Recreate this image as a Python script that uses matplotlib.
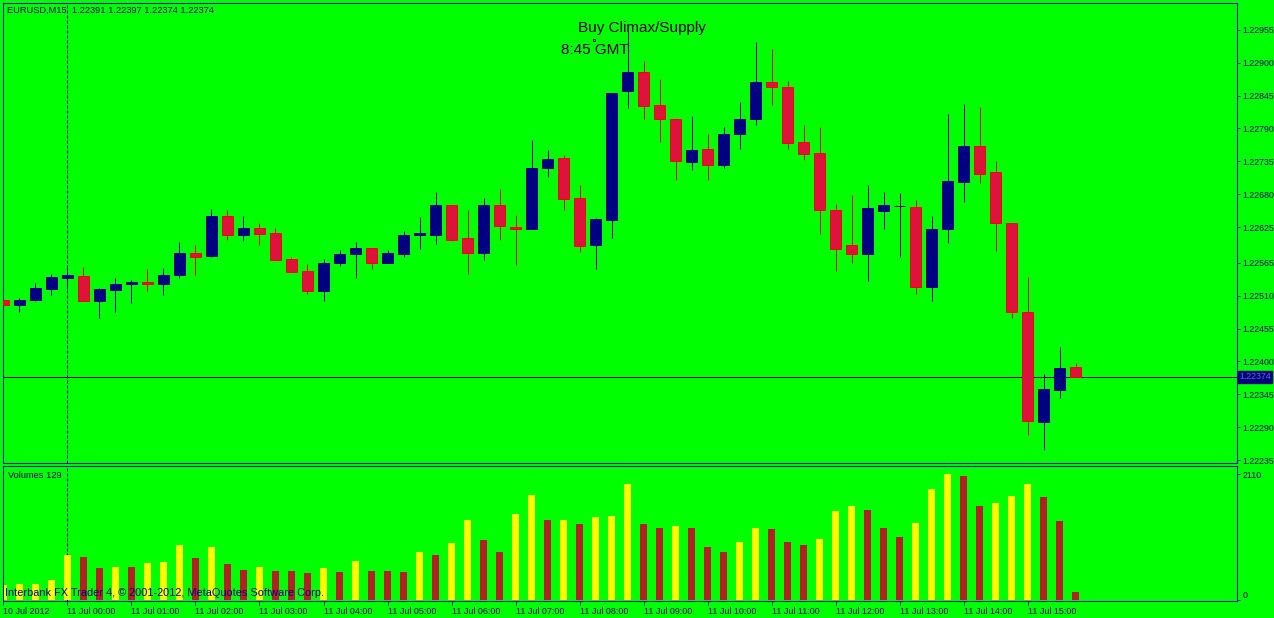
import numpy as np
import matplotlib.pyplot as plt

# EURUSD M15, 10 Jul 23:00 .. 11 Jul 15:45
opens = [1.22503, 1.22495, 1.22503, 1.22522, 1.22540, 1.22543, 1.22502, 1.22520, 1.22530, 1.22533,
         1.22529, 1.22544, 1.22582, 1.22577, 1.22644, 1.22612, 1.22623, 1.22615, 1.22572, 1.22551,
         1.22518, 1.22564, 1.22580, 1.22590, 1.22565, 1.22580, 1.22611, 1.22612, 1.22662, 1.22607,
         1.22582, 1.22662, 1.22625, 1.22621, 1.22724, 1.22741, 1.22674, 1.22595, 1.22637, 1.22852,
         1.22885, 1.22829, 1.22806, 1.22734, 1.22756, 1.22728, 1.22780, 1.22805, 1.22868, 1.22860,
         1.22767, 1.22749, 1.22654, 1.22595, 1.22580, 1.22652, 1.22660, 1.22659, 1.22524, 1.22621,
         1.22701, 1.22761, 1.22717, 1.22632, 1.22483, 1.22299, 1.22353, 1.22391]
highs = [1.22505, 1.22506, 1.22531, 1.22546, 1.22561, 1.22558, 1.22523, 1.22540, 1.22536, 1.22555,
         1.22556, 1.22600, 1.22595, 1.22655, 1.22654, 1.22644, 1.22632, 1.22623, 1.22575, 1.22563,
         1.22572, 1.22587, 1.22600, 1.22590, 1.22587, 1.22618, 1.22642, 1.22684, 1.22662, 1.22654,
         1.22674, 1.22689, 1.22645, 1.22771, 1.22754, 1.22746, 1.22695, 1.22640, 1.22850, 1.22955,
         1.22903, 1.22873, 1.22808, 1.22811, 1.22781, 1.22793, 1.22834, 1.22935, 1.22923, 1.22870,
         1.22796, 1.22793, 1.22664, 1.22678, 1.22695, 1.22684, 1.22682, 1.22670, 1.22644, 1.22814,
         1.22831, 1.22826, 1.22736, 1.22632, 1.22541, 1.22379, 1.22424, 1.22397]
lows = [1.22483, 1.22482, 1.22502, 1.22512, 1.22521, 1.22501, 1.22473, 1.22483, 1.22498, 1.22518,
        1.22512, 1.22540, 1.22545, 1.22574, 1.22604, 1.22602, 1.22595, 1.22569, 1.22549, 1.22513,
        1.22502, 1.22560, 1.22540, 1.22555, 1.22565, 1.22574, 1.22589, 1.22597, 1.22602, 1.22547,
        1.22570, 1.22604, 1.22562, 1.22621, 1.22709, 1.22654, 1.22584, 1.22555, 1.22606, 1.22825,
        1.22805, 1.22768, 1.22704, 1.22721, 1.22704, 1.22724, 1.22756, 1.22795, 1.22830, 1.22756,
        1.22738, 1.22614, 1.22552, 1.22564, 1.22534, 1.22622, 1.22574, 1.22513, 1.22502, 1.22599,
        1.22667, 1.22699, 1.22585, 1.22473, 1.22277, 1.22252, 1.22339, 1.22374]
closes = [1.22495, 1.22503, 1.22523, 1.22541, 1.22545, 1.22502, 1.22521, 1.22530, 1.22533, 1.22529,
          1.22545, 1.22582, 1.22575, 1.22644, 1.22612, 1.22623, 1.22614, 1.22570, 1.22550, 1.22518,
          1.22565, 1.22580, 1.22590, 1.22564, 1.22582, 1.22612, 1.22615, 1.22662, 1.22604, 1.22582,
          1.22662, 1.22626, 1.22622, 1.22724, 1.22739, 1.22672, 1.22594, 1.22639, 1.22850, 1.22885,
          1.22827, 1.22806, 1.22736, 1.22754, 1.22728, 1.22781, 1.22806, 1.22868, 1.22860, 1.22766,
          1.22748, 1.22654, 1.22589, 1.22580, 1.22657, 1.22662, 1.22660, 1.22524, 1.22622, 1.22702,
          1.22761, 1.22714, 1.22632, 1.22482, 1.22301, 1.22354, 1.22389, 1.22374]
volumes = [250, 260, 268, 335, 754, 720, 536, 553, 545, 620,
           637, 921, 703, 888, 603, 502, 553, 486, 480, 452,
           536, 469, 653, 486, 482, 469, 804, 754, 955, 1340,
           1005, 804, 1440, 1759, 1340, 1345, 1273, 1390, 1407, 1943,
           1273, 1206, 1240, 1206, 888, 804, 971, 1206, 1189, 971,
           921, 1022, 1490, 1574, 1507, 1206, 1055, 1290, 1859, 2110,
           2077, 1574, 1625, 1742, 1943, 1725, 1323, 129]

price_ticks = [1.22955, 1.22900, 1.22845, 1.22790, 1.22735, 1.22680, 1.22625,
               1.22565, 1.22510, 1.22455, 1.22400, 1.22345, 1.22290, 1.22235]
time_tick_idx = [0, 4, 8, 12, 16, 20, 24, 28, 32, 36, 40, 44, 48, 52, 56, 60, 64]
time_labels = ["10 Jul 2012", "11 Jul 00:00", "11 Jul 01:00", "11 Jul 02:00", "11 Jul 03:00",
               "11 Jul 04:00", "11 Jul 05:00", "11 Jul 06:00", "11 Jul 07:00", "11 Jul 08:00",
               "11 Jul 09:00", "11 Jul 10:00", "11 Jul 11:00", "11 Jul 12:00", "11 Jul 13:00",
               "11 Jul 14:00", "11 Jul 15:00"]
bid = 1.22374
day_sep = 4  # 11 Jul 00:00

W, H = 1274, 618
BG = "#00ff00"
NAVY = "#000080"
FRAME = "#1c1ca8"
TXT = "#0a0a60"
FONT = "Liberation Sans"

fig = plt.figure(figsize=(W / 100, H / 100), dpi=100, facecolor=BG)
ax = fig.add_axes([3 / W, 1 - 463 / H, 1234 / W, 460 / H], facecolor=BG)
axv = fig.add_axes([3 / W, 1 - 601 / H, 1234 / W, 135 / H], facecolor=BG, sharex=ax)

x = np.arange(len(closes))
o = np.array(opens)
c = np.array(closes)
up = c > o
down = c < o
flat = c == o

# wicks
wick_col = np.where(up, NAVY, np.where(down, "#ff0000", "#000000"))
ax.vlines(x, lows, highs, colors=wick_col, linewidth=0.75, zorder=2)
# bodies
bw = 0.66
ax.bar(x[up], (c - o)[up], bottom=o[up], width=bw, color=NAVY, edgecolor=NAVY,
       linewidth=0.7, zorder=3)
ax.bar(x[down], (o - c)[down], bottom=c[down], width=bw, color="#dc143c",
       edgecolor="#ff0000", linewidth=0.7, zorder=3)
ax.hlines(c[flat], x[flat] - bw / 2, x[flat] + bw / 2, colors="#000000",
          linewidth=0.75, zorder=3)

ax.axhline(bid, color="black", linewidth=0.75, zorder=1)
for a in (ax, axv):
    a.axvline(day_sep, color=NAVY, linewidth=0.75, linestyle=(0, (2.9, 1.9)), zorder=1)

ax.set_xlim(-0.03, 77.09)
ax.set_ylim(1.22230, 1.23000)

# volumes
v = np.array(volumes)
vup = np.concatenate([[True], v[1:] > v[:-1]])
axv.bar(x, v, width=0.44, color=np.where(vup, "#ffff00", "#b22222"), zorder=2)
axv.set_ylim(-17, 2244)

for a in (ax, axv):
    for s in a.spines.values():
        s.set_color(FRAME)
        s.set_linewidth(0.8)
    a.yaxis.tick_right()
    a.tick_params(axis="y", direction="out", length=2.5, width=0.7, color=FRAME,
                  labelsize=6.3, labelcolor=TXT, pad=1.2)

ax.set_yticks(price_ticks)
ax.set_yticklabels([f"{p:.5f}" for p in price_ticks], fontfamily=FONT)
ax.tick_params(axis="x", bottom=False, labelbottom=False)

axv.set_yticks([0, 2110])
vl = axv.set_yticklabels(["0", "2110"], fontfamily=FONT)
vl[0].set_va("bottom")

axv.set_xticks(time_tick_idx)
tl = axv.set_xticklabels(time_labels, fontfamily=FONT, fontsize=6.4, color=TXT)
for t in tl:
    t.set_ha("left")
axv.tick_params(axis="x", direction="out", length=3, width=0.7, color=FRAME, pad=1.5)

# texts
fig.text(7 / W, 1 - 10 / H, "EURUSD,M15  1.22391 1.22397 1.22374 1.22374",
         fontfamily=FONT, fontsize=6.7, color=TXT, va="center")
fig.text(8 / W, 1 - 476 / H, "Volumes 129", fontfamily=FONT, fontsize=6.7,
         color=TXT, va="center")
fig.text(5 / W, 1 - 593 / H, "Interbank FX Trader 4, \u00a9 2001-2012, MetaQuotes Software Corp.",
         fontfamily=FONT, fontsize=7.9, color=NAVY, va="center")

ax.text(35.9, 1.22958, "Buy Climax/Supply", fontfamily=FONT, fontsize=11,
        color="black", va="center", ha="left")
ax.text(34.85, 1.22922, "8:45 GMT", fontfamily=FONT, fontsize=11,
        color="black", va="center", ha="left")
ax.plot([36.9], [1.22938], marker="s", markersize=2, mfc=BG, mec="black", mew=0.6)

ax.text(1.002, bid, f"{bid:.5f}", transform=ax.get_yaxis_transform(),
        fontfamily=FONT, fontsize=6.3, color="#6a6ac0", va="center", ha="left",
        bbox=dict(boxstyle="square,pad=0.12", fc=NAVY, ec=NAVY))

fig.savefig("out.png", dpi=100, facecolor=BG)
